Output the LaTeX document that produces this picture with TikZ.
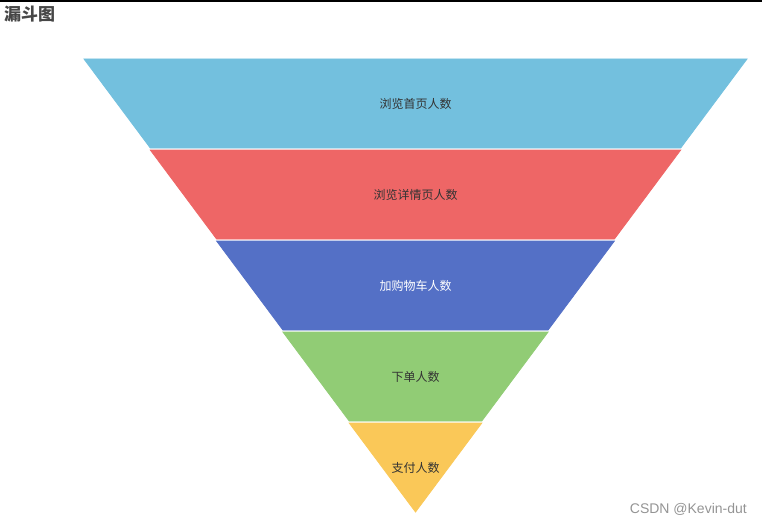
\documentclass[tikz,border=0pt]{standalone}
\usepackage{fontspec}
\newfontfamily\cjk{Noto Sans CJK SC}
\setsansfont{Liberation Sans}

\definecolor{funnelBrowse}{HTML}{73C0DE}
\definecolor{funnelDetail}{HTML}{EE6666}
\definecolor{funnelCart}{HTML}{5470C6}
\definecolor{funnelOrder}{HTML}{91CC75}
\definecolor{funnelPay}{HTML}{FAC858}
\definecolor{labelgray}{HTML}{333333}

\tikzset{
  band/.style={draw=white, line width=0.8pt, line join=miter},
  bandlabel/.style={inner sep=0pt, text=labelgray, font=\cjk\fontsize{12}{14}\selectfont}
}

\begin{document}
\begin{tikzpicture}[x=1pt, y=-1pt]
\useasboundingbox (0,0) rectangle (762,524);
% top rule and title
\fill[black] (0,0) rectangle (762,2);
\node[anchor=west, inner sep=0pt, text=black!72, font=\cjk\bfseries\fontsize{17}{20}\selectfont] (title) at (4,14.5) {漏斗图};
% funnel bands
\fill[band, funnelBrowse] (84,59) -- (747,59) -- (680.7,148) -- (150.3,148) -- cycle;
\fill[band, funnelDetail] (150.3,150) -- (680.7,150) -- (614.4,239) -- (216.6,239) -- cycle;
\fill[band, funnelCart] (216.6,241) -- (614.4,241) -- (548.1,330) -- (282.9,330) -- cycle;
\fill[band, funnelOrder] (282.9,332) -- (548.1,332) -- (481.8,421) -- (349.2,421) -- cycle;
\fill[band, funnelPay] (349.2,423) -- (481.8,423) -- (415.5,512) -- cycle;
% labels
\node[bandlabel] (browse) at (415.5,103.5) {浏览首页人数};
\node[bandlabel] (detail) at (415.5,194.5) {浏览详情页人数};
\node[bandlabel, text=white] (cart) at (415.5,285.5) {加购物车人数};
\node[bandlabel] (order) at (415.5,376.5) {下单人数};
\node[bandlabel] (pay) at (415.5,467.5) {支付人数};
% watermark
\node[anchor=east, inner sep=0pt, text=black!42, font=\sffamily\fontsize{14}{16}\selectfont] (mark) at (747,509) {CSDN @Kevin-dut};
\end{tikzpicture}
\end{document}
